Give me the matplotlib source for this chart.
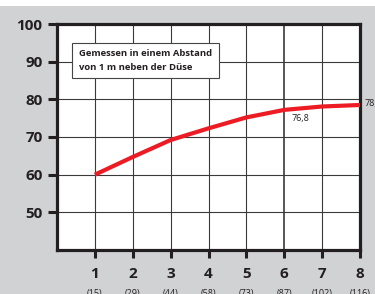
import matplotlib
matplotlib.use('Agg')
from matplotlib import pyplot as plt
from matplotlib.patches import Rectangle

plt.rcParams['font.family'] = ['Open Sans', 'DejaVu Sans']

stufe = [1, 2, 3, 4, 5, 6, 7, 8]
pegel = [60, 64.7, 69.2, 72.3, 75.2, 77.2, 78.1, 78.5]
sub_labels = ['(15)', '(29)', '(44)', '(58)', '(73)', '(87)', '(102)', '(116)']
y_ticks = [50, 60, 70, 80, 90, 100]

gray = '#d1d2d4'
dark = '#231f20'
red = '#ed1c24'

fig = plt.figure(figsize=(3.75, 2.94), dpi=100)
fig.patch.set_facecolor(gray)
fig.patches.append(Rectangle((0, 1 - 6/294), 1, 6/294, transform=fig.transFigure,
                             facecolor='white', edgecolor='none', zorder=0))

ax = fig.add_axes([57/375, 44/294, 303/375, 226/294])
ax.set_facecolor('white')
ax.set_xlim(0, 8)
ax.set_ylim(40, 100)

# grid
for x in range(1, 8):
    lw = 1.2 if x == 6 else 0.8
    ax.axvline(x, color='#3a3a3a', lw=lw, zorder=1)
for y in [50, 60, 70, 80, 90]:
    ax.axhline(y, color='#3a3a3a', lw=0.8, zorder=1)

ax.plot(stufe, pegel, color=red, lw=3, solid_capstyle='butt', zorder=3)

for s in ax.spines.values():
    s.set_linewidth(2.3)
    s.set_color(dark)

ax.set_xticks(stufe)
ax.set_xticklabels([str(s) for s in stufe], fontsize=11, fontweight='bold', color=dark)
ax.set_yticks(y_ticks)
ax.set_yticklabels([str(v) for v in y_ticks], fontsize=11, fontweight='bold', color=dark)
ax.tick_params(axis='x', length=6, width=2.2, color=dark, pad=6)
ax.tick_params(axis='y', length=6.5, width=2.2, color=dark, pad=4)

for s, lab in zip(stufe, sub_labels):
    ax.text(s, -0.172, lab, transform=ax.get_xaxis_transform(), ha='center', va='top',
            fontsize=6.5, color=dark, clip_on=False)

ax.text(6.42, 75.0, '76,8', ha='center', va='center', fontsize=6.5, color=dark, zorder=4)
ax.text(8.13, 79.0, '78,5', ha='left', va='center', fontsize=6.5, color=dark, clip_on=False)

ax.text(0.58, 90.3, 'Gemessen in einem Abstand\nvon 1 m neben der Düse', fontsize=6.8,
        fontweight='bold', color=dark, ha='left', va='center', linespacing=1.6, zorder=5,
        bbox=dict(boxstyle='square,pad=0.7', facecolor='white', edgecolor='#444444', lw=0.8))

plt.savefig('out.png', dpi=100, facecolor=fig.get_facecolor())
